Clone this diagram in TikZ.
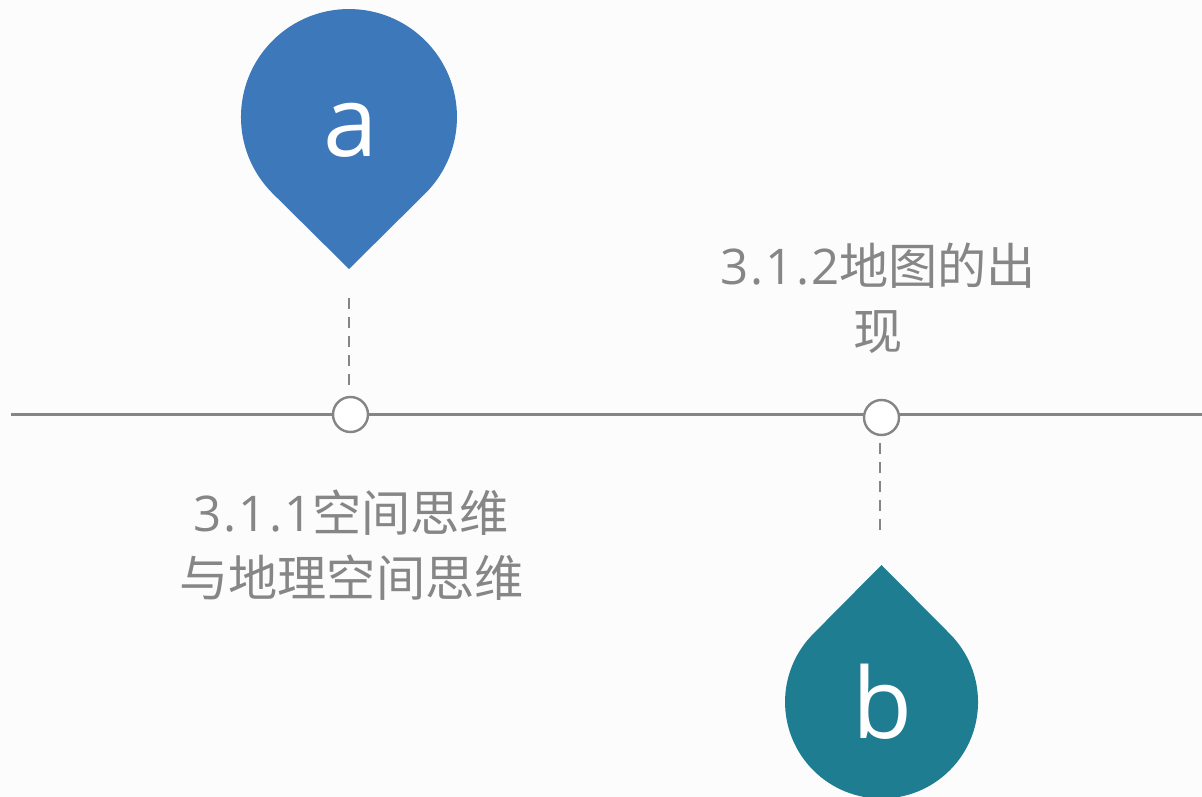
\documentclass[tikz,border=0pt]{standalone}
\usepackage{fontspec}
\setmainfont{Open Sans}
\newfontfamily\cjk{Noto Sans CJK SC}
\newcommand{\dg}[1]{{\addfontfeatures{LetterSpace=4}#1}}
\definecolor{bgc}{HTML}{FCFCFC}
\definecolor{linec}{HTML}{858585}
\definecolor{txtc}{HTML}{868686}
\definecolor{bluec}{HTML}{3C78BA}
\definecolor{tealc}{HTML}{1F7D91}
\tikzset{
  dot/.style={circle,draw=linec,line width=2.4pt,fill=white,minimum size=35pt,inner sep=0pt},
  axis/.style={draw=linec,line width=3pt},
  dash line/.style={draw=linec,line width=2pt,dash pattern=on 11pt off 8pt},
  label/.style={text=txtc,font=\fontsize{49.2}{65}\selectfont,align=center,inner sep=0pt},
  letter/.style={text=white,font=\fontsize{98}{98}\selectfont,inner sep=0pt,anchor=base}
}
\begin{document}
\begin{tikzpicture}[x=1pt,y=-1pt]
\useasboundingbox (0,0) rectangle (1202,797);
\fill[bgc] (0,0) rectangle (1202,797);
\coordinate (L) at (11,414);
\coordinate (R) at (1202,414);
\draw[axis] (L) -- (R);
\node[dot] (d1) at (350.5,414.5) {};
\node[dot] (d2) at (881.5,417.5) {};
\coordinate (a1) at (349,298);
\coordinate (a2) at (349,386);
\coordinate (b1) at (880,443);
\coordinate (b2) at (880,530);
\draw[dash line] (a1) -- (a2);
\draw[dash line] (b1) -- (b2);
\fill[bluec] (349,269) -- (272.6,193.4) arc[start angle=135,end angle=405,radius=108] -- cycle;
\fill[tealc] (881.5,565) -- (813.3,633.8) arc[start angle=225,end angle=-45,radius=96.5] -- cycle;
\node[letter] (la) at (351,157) {a};
\node[letter] (lb) at (883,738) {b};
\node[label] (t1) at (351.5,545) {\dg{3.1.1}{\cjk 空间思维}\\{\cjk 与地理空间思维}};
\node[label] (t2) at (878.5,298.5) {\dg{3.1.2}{\cjk 地图的出}\\{\cjk 现}};
\end{tikzpicture}
\end{document}
